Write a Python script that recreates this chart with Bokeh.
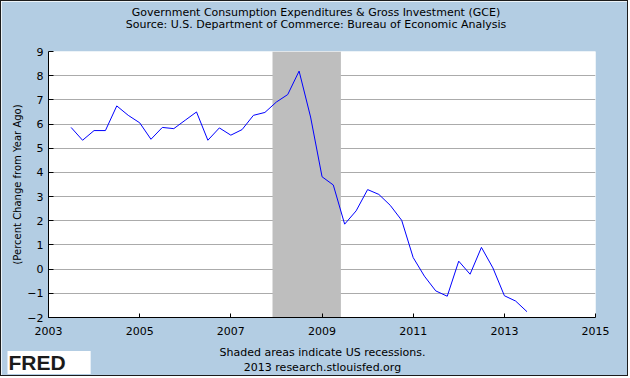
import pandas as pd
from bokeh.plotting import figure
from bokeh.models import Range1d, FixedTicker, DatetimeTickFormatter, Label
from bokeh.embed import file_html
from bokeh.resources import INLINE

# ---- data ----
quarters = [
    "2003-07-01", "2003-10-01",
    "2004-01-01", "2004-04-01", "2004-07-01", "2004-10-01",
    "2005-01-01", "2005-04-01", "2005-07-01", "2005-10-01",
    "2006-01-01", "2006-04-01", "2006-07-01", "2006-10-01",
    "2007-01-01", "2007-04-01", "2007-07-01", "2007-10-01",
    "2008-01-01", "2008-04-01", "2008-07-01", "2008-10-01",
    "2009-01-01", "2009-04-01", "2009-07-01", "2009-10-01",
    "2010-01-01", "2010-04-01", "2010-07-01", "2010-10-01",
    "2011-01-01", "2011-04-01", "2011-07-01", "2011-10-01",
    "2012-01-01", "2012-04-01", "2012-07-01", "2012-10-01",
    "2013-01-01", "2013-04-01", "2013-07-01",
]
gce_pct_change = [
    5.86, 5.33,
    5.73, 5.73, 6.75, 6.36,
    6.05, 5.37, 5.86, 5.81,
    6.16, 6.50, 5.33, 5.84,
    5.54, 5.77, 6.36, 6.48,
    6.91, 7.22, 8.19, 6.29,
    3.82, 3.48, 1.86, 2.41,
    3.29, 3.09, 2.64, 2.02,
    0.48, -0.29, -0.90, -1.12,
    0.33, -0.21, 0.90, 0.05,
    -1.10, -1.32, -1.76,
]
recession_start = ["2007-12-01"]
recession_end = ["2009-06-01"]
x_tick_years = [2003, 2005, 2007, 2009, 2011, 2013, 2015]
y_ticks = [-2, -1, 0, 1, 2, 3, 4, 5, 6, 7, 8, 9]
y_grid_ticks = [-1, 0, 1, 2, 3, 4, 5, 6, 7, 8]

title_line1 = "Government Consumption Expenditures & Gross Investment (GCE)"
title_line2 = "Source: U.S. Department of Commerce: Bureau of Economic Analysis"
y_label = "(Percent Change from Year Ago)"
note_line1 = "Shaded areas indicate US recessions."
note_line2 = "2013 research.stlouisfed.org"

# ---- styling ----
FONT = "DejaVu Sans"
BG = "#B3CDE3"

x = pd.to_datetime(quarters)
rs = pd.to_datetime(recession_start)
re_ = pd.to_datetime(recession_end)


def ms(year):
    return pd.Timestamp(f"{year}-01-01").value / 1e6


p = figure(
    width=628, height=376,
    x_axis_type="datetime",
    x_range=Range1d(ms(x_tick_years[0]), ms(x_tick_years[-1])),
    y_range=Range1d(y_ticks[0], y_ticks[-1]),
    output_backend="svg", toolbar_location=None, title=None,
    min_border_left=47, min_border_right=34,
    min_border_top=50, min_border_bottom=60,
    background_fill_color="white", border_fill_color=BG,
    outline_line_color=None,
)
p.styles = {"border": "1px solid #1c1c1c"}

# recession shading
p.quad(left=rs, right=re_, bottom=y_ticks[0], top=y_ticks[-1],
       fill_color="#BEBEBE", line_color=None)

# series
p.line(x, gce_pct_change, line_color="#0000FF", line_width=1)

# grid
p.xgrid.visible = False
p.ygrid.ticker = FixedTicker(ticks=y_grid_ticks)
p.ygrid.grid_line_color = "#ABABAB"
p.ygrid.grid_line_width = 1

# axes
for ax in (p.xaxis[0], p.yaxis[0]):
    ax.axis_line_color = "black"
    ax.major_tick_line_color = "black"
    ax.major_tick_out = 0
    ax.minor_tick_in = 0
    ax.minor_tick_out = 0
    ax.major_label_text_font = FONT
    ax.major_label_text_font_size = "11px"
    ax.major_label_text_color = "black"

p.xaxis.ticker = FixedTicker(ticks=[ms(yv) for yv in x_tick_years])
p.xaxis.formatter = DatetimeTickFormatter(years="%Y", months="%Y", days="%Y",
                                          hours="%Y", hourmin="%Y", minutes="%Y")
p.xaxis.major_tick_in = 4
p.xaxis.major_label_standoff = 9

p.yaxis.ticker = FixedTicker(ticks=y_ticks)
p.yaxis.major_tick_in = 5
p.yaxis.major_label_standoff = 5
p.yaxis.axis_label = y_label
p.yaxis.axis_label_text_font = FONT
p.yaxis.axis_label_text_font_size = "10px"
p.yaxis.axis_label_text_font_style = "normal"
p.yaxis.axis_label_text_color = "black"
p.yaxis.axis_label_standoff = 1


def add_text(txt, xs, ys, side, size="11px", align="center", **kw):
    lab = Label(x=xs, y=ys, x_units="screen", y_units="screen", text=txt,
                text_font=FONT, text_font_size=size, text_align=align,
                text_baseline="middle", text_color="black", **kw)
    p.add_layout(lab, side)
    return lab


# Each label sits in its own side panel; y is measured upward from the
# bottom edge of that panel, x from the frame's left edge.
add_text(title_line1, 267.5, 39, "above")
add_text(title_line2, 267.5, 14, "above")

add_text(note_line1, 274, -1.5, "below")
add_text(note_line2, 274, -4, "below")

# FRED badge (its panel stacks above the two title panels)
fred = Label(x=-41, y=-337, x_units="screen", y_units="screen", text="FRED",
             text_font="Liberation Sans", text_font_style="bold",
             text_font_size="21px", text_align="left", text_baseline="middle",
             text_color="#1a1a1a", background_fill_color="white",
             padding=dict(left=1, right=25, top=0, bottom=0))
p.add_layout(fred, "above")

open("out.html", "w").write(file_html(p, INLINE))
